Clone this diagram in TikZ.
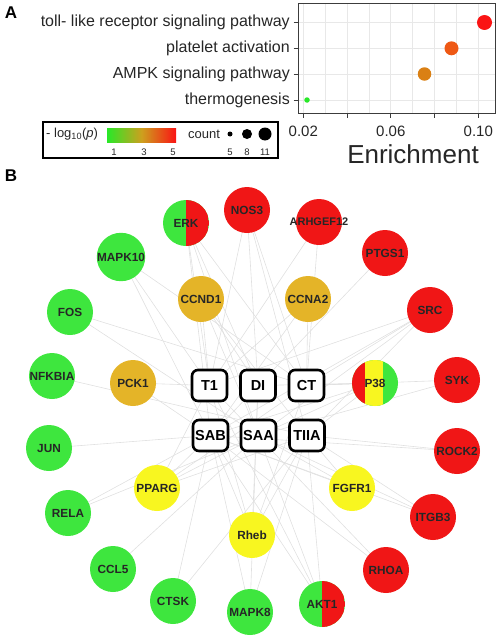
\documentclass[tikz,border=0pt]{standalone}
\usepackage{fontspec}
\setmainfont{Liberation Sans}
\usetikzlibrary{backgrounds}
\definecolor{gG}{RGB}{62,230,62}
\definecolor{rR}{RGB}{240,22,22}
\definecolor{yY}{RGB}{248,246,32}
\definecolor{oO}{RGB}{228,180,40}
\definecolor{dTo}{RGB}{250,20,20}
\definecolor{dPl}{RGB}{238,88,20}
\definecolor{dAm}{RGB}{218,128,20}
\definecolor{dTh}{RGB}{40,232,40}
\definecolor{gridc}{RGB}{232,232,232}
\definecolor{edgec}{RGB}{224,224,224}
\definecolor{framec}{RGB}{60,60,60}
\definecolor{midc}{RGB}{205,160,30}
\tikzset{
  genenode/.style={circle, minimum size=46pt, inner sep=0pt, font=\fontsize{11.8}{12}\selectfont\bfseries, text=black!85},
  gn/.style={genenode, fill=gG},
  rd/.style={genenode, fill=rR},
  yl/.style={genenode, fill=yY},
  gd/.style={genenode, fill=oO},
  halfgr/.style={genenode, fill=gG, path picture={\fill[rR] (path picture bounding box.north) rectangle (path picture bounding box.south east);}},
  tri/.style={genenode, fill=gG, path picture={\fill[rR] (path picture bounding box.south west) rectangle ([xshift=13pt]path picture bounding box.north west);
     \fill[yY] ([xshift=13pt]path picture bounding box.south west) rectangle ([xshift=31pt]path picture bounding box.north west);}},
  cbox/.style={draw=black, rounded corners=6pt, line width=2.6pt, minimum width=35pt, minimum height=31pt, inner sep=0pt, fill=white, font=\fontsize{14.5}{15}\selectfont\bfseries},
  edge/.style={draw=edgec, line width=0.6pt},
  gridl/.style={draw=gridc, line width=0.7pt},
  ylab/.style={anchor=east, inner sep=0pt, font=\fontsize{16}{18}\selectfont, text=black!85},
  xlab/.style={inner sep=0pt, font=\fontsize{15}{17}\selectfont, text=black!85},
  small/.style={inner sep=0pt, font=\fontsize{9.5}{10}\selectfont, text=black!85},
  dot/.style={circle, inner sep=0pt},
  panel/.style={inner sep=0pt, font=\fontsize{17}{18}\selectfont\bfseries}
}
\begin{document}
\begin{tikzpicture}[x=1pt,y=-1pt]
\useasboundingbox (0,0) rectangle (498,642);
% ---------- Panel A ----------
\node[panel] (labA) at (11,13) {A};
% grid
\foreach \xx in {303.3,325.2,347.1,369.0,390.8,412.7,434.6,456.5,478.3}
  \draw[gridl] (\xx,3) -- (\xx,113);
\foreach \yy in {22.5,48.3,74,100}
  \draw[gridl] (298,\yy) -- (495,\yy);
\draw[framec, line width=0.9pt] (298,3) rectangle (495,113);
% ticks
\foreach \yy in {22.5,48.3,74,100}
  \draw[framec, line width=0.9pt] (293.5,\yy) -- (298,\yy);
\foreach \xx in {303.3,347.1,390.8,434.6,478.3}
  \draw[framec, line width=0.9pt] (\xx,113) -- (\xx,117.5);
\node[ylab] (l1) at (290,22.5) {toll- like receptor signaling pathway};
\node[ylab] (l2) at (290,48.3) {platelet activation};
\node[ylab] (l3) at (290,74) {AMPK signaling pathway};
\node[ylab] (l4) at (290,100) {thermogenesis};
\node[xlab] (t1) at (303.3,131) {0.02};
\node[xlab] (t2) at (390.8,131) {0.06};
\node[xlab] (t3) at (478.3,131) {0.10};
\node[inner sep=0pt, font=\fontsize{26}{27}\selectfont, text=black!85] (enr) at (413,154) {Enrichment};
% dots
\node[dot, fill=dTo, minimum size=15pt] (d1) at (484.5,22.5) {};
\node[dot, fill=dPl, minimum size=14pt] (d2) at (451.5,48.3) {};
\node[dot, fill=dAm, minimum size=13.5pt] (d3) at (424.5,74) {};
\node[dot, fill=dTh, minimum size=5.5pt] (d4) at (307,100) {};
% legend
\draw[black, line width=1.2pt] (43,122) rectangle (278,158);
\node[anchor=west, inner sep=0pt, font=\fontsize{13}{14}\selectfont, text=black!85] (lg1) at (46,134) {- log\textsubscript{10}(\textit{p})};
\shade[left color=dTh, right color=dTo, middle color=midc] (107,128) rectangle (176,142);
\node[small] (n1) at (114,152) {1};
\node[small] (n3) at (144,152) {3};
\node[small] (n5) at (173,152) {5};
\node[inner sep=0pt, font=\fontsize{13}{14}\selectfont, text=black!85] (cnt) at (204,134) {count};
\node[dot, fill=black, minimum size=5pt] (c5) at (230,134) {};
\node[dot, fill=black, minimum size=10pt] (c8) at (247,134) {};
\node[dot, fill=black, minimum size=13pt] (c11) at (265,134) {};
\node[small] (m5) at (230,152) {5};
\node[small] (m8) at (247,152) {8};
\node[small] (m11) at (265,152) {11};
% ---------- Panel B ----------
\node[panel] (labB) at (11,176) {B};
% compound boxes
\node[cbox] (T1) at (209.5,385.5) {T1};
\node[cbox] (DI) at (258,385.5) {DI};
\node[cbox] (CT) at (306.5,385.5) {CT};
\node[cbox] (SAB) at (210.5,435.5) {SAB};
\node[cbox] (SAA) at (258.5,435.5) {SAA};
\node[cbox] (TIIA) at (307,435.5) {TIIA};
% genes
\node[halfgr] (ERK) at (186,223) {ERK};
\node[rd] (NOS3) at (247,210) {NOS3};
\node[rd] (ARHGEF12) at (319,222) {\makebox[0pt]{\fontsize{11}{12}\selectfont ARHGEF12}};
\node[gn] (MAPK10) at (121,257) {MAPK10};
\node[rd] (PTGS1) at (385,253) {PTGS1};
\node[gd] (CCND1) at (201,299) {CCND1};
\node[gd] (CCNA2) at (308,299) {CCNA2};
\node[gn] (FOS) at (70,312) {FOS};
\node[rd] (SRC) at (430,310) {SRC};
\node[gn] (NFKBIA) at (52,376) {NFKBIA};
\node[gd] (PCK1) at (133,383) {PCK1};
\node[tri] (P38) at (375,383) {P38};
\node[rd] (SYK) at (457,380) {SYK};
\node[gn] (JUN) at (49,448) {JUN};
\node[rd] (ROCK2) at (457,451) {ROCK2};
\node[yl] (PPARG) at (157,488) {PPARG};
\node[yl] (FGFR1) at (352,488) {FGFR1};
\node[gn] (RELA) at (68,513) {RELA};
\node[rd] (ITGB3) at (433,517) {ITGB3};
\node[yl] (Rheb) at (252,535) {Rheb};
\node[gn] (CCL5) at (113,569) {CCL5};
\node[rd] (RHOA) at (386,570) {RHOA};
\node[gn] (CTSK) at (173,601) {CTSK};
\node[gn] (MAPK8) at (250,612) {MAPK8};
\node[halfgr] (AKT1) at (322,604) {AKT1};
% edges
\begin{pgfonlayer}{background}
\foreach \g/\c in {ERK/T1, ERK/DI, ERK/CT, ERK/SAB, ERK/SAA,
  NOS3/DI, NOS3/CT, NOS3/TIIA, NOS3/T1,
  ARHGEF12/T1, ARHGEF12/CT,
  MAPK10/CT, MAPK10/SAB, MAPK10/T1,
  PTGS1/SAB,
  CCND1/T1, CCND1/DI, CCND1/TIIA, CCND1/SAA,
  CCNA2/CT, CCNA2/T1, CCNA2/SAB,
  FOS/SAA, FOS/CT,
  SRC/CT, SRC/SAB, SRC/T1, SRC/SAA, SRC/TIIA,
  NFKBIA/TIIA,
  PCK1/T1, PCK1/SAB,
  P38/CT, P38/DI, P38/SAB, P38/TIIA, P38/SAA,
  SYK/CT, SYK/SAA,
  JUN/SAB,
  ROCK2/TIIA, ROCK2/SAB,
  PPARG/T1, PPARG/SAB, PPARG/SAA, PPARG/CT, PPARG/TIIA,
  FGFR1/TIIA, FGFR1/SAB, FGFR1/SAA,
  RELA/SAB, RELA/SAA,
  ITGB3/TIIA, ITGB3/SAA, ITGB3/SAB,
  Rheb/T1, Rheb/DI, Rheb/TIIA, Rheb/SAB, Rheb/CT,
  CCL5/SAA,
  RHOA/SAB, RHOA/T1,
  CTSK/TIIA, CTSK/SAB,
  MAPK8/SAB, MAPK8/TIIA, MAPK8/DI,
  AKT1/SAB, AKT1/T1, AKT1/SAA, AKT1/TIIA}
  \draw[edge] (\g.center) -- (\c.center);
\end{pgfonlayer}
\end{tikzpicture}
\end{document}
